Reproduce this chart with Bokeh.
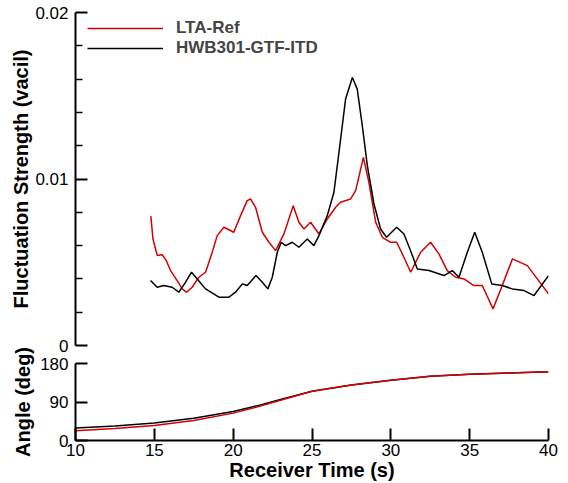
from bokeh.plotting import figure
from bokeh.layouts import column
from bokeh.models import FixedTicker, CustomJSTickFormatter, Legend, LegendItem, Range1d
from bokeh.embed import file_html
from bokeh.resources import INLINE

# ---------------- data ----------------
t_lta = [14.78, 14.91, 15.18, 15.50, 15.75, 16.03, 16.45, 16.77, 17.04, 17.40, 17.82, 18.25,
         18.67, 18.99, 19.41, 20.04, 20.47, 20.89, 21.10, 21.42, 21.85, 22.27, 22.69, 23.22,
         23.81, 24.17, 24.49, 24.91, 25.44, 25.97, 26.50, 26.81, 27.45, 27.77, 28.26, 28.61,
         29.04, 29.46, 29.99, 30.37, 30.83, 31.26, 31.89, 32.52, 33.05, 33.58, 34.11, 34.64,
         35.27, 35.80, 36.48, 37.07, 37.71, 38.66, 39.29, 40.00]
fs_lta = [0.00777, 0.00641, 0.00541, 0.00545, 0.00511, 0.0045, 0.0039, 0.0034, 0.0032, 0.0035,
          0.0041, 0.0044, 0.0056, 0.0066, 0.0071, 0.0068, 0.0078, 0.0087, 0.0088, 0.0083,
          0.0068, 0.0062, 0.0057, 0.0067, 0.0084, 0.0074, 0.0070, 0.0074, 0.0067, 0.0076,
          0.0083, 0.0086, 0.0088, 0.0093, 0.0113, 0.0098, 0.0074, 0.0065, 0.0062, 0.0062,
          0.0053, 0.0044, 0.0056, 0.0062, 0.0055, 0.0045, 0.0041, 0.0040, 0.0036, 0.0036,
          0.0022, 0.0036, 0.0052, 0.0048, 0.0040, 0.0031]

t_hwb = [14.76, 15.18, 15.60, 16.13, 16.55, 16.98, 17.36, 17.72, 18.25, 19.10, 19.73, 20.15,
         20.58, 20.89, 21.45, 21.85, 22.20, 22.48, 22.80, 23.05, 23.32, 23.75, 24.17, 24.70,
         25.12, 25.44, 25.97, 26.39, 26.71, 27.13, 27.56, 27.87, 28.19, 28.51, 28.93, 29.35,
         29.73, 30.37, 30.83, 31.21, 31.68, 32.42, 33.37, 33.90, 34.32, 34.85, 35.32, 35.80,
         36.40, 37.07, 37.71, 38.45, 39.08, 40.00]
fs_hwb = [0.0039, 0.0035, 0.0036, 0.0035, 0.0032, 0.0038, 0.0044, 0.0040, 0.0034, 0.0029,
          0.0029, 0.0032, 0.0037, 0.0036, 0.0042, 0.0038, 0.0034, 0.0041, 0.0056, 0.0062,
          0.0060, 0.0062, 0.0059, 0.0064, 0.0060, 0.0066, 0.0078, 0.0092, 0.0116, 0.0148,
          0.0161, 0.0154, 0.0132, 0.0108, 0.0085, 0.0070, 0.0065, 0.0071, 0.0067, 0.0058,
          0.0046, 0.0045, 0.0042, 0.0045, 0.0041, 0.0056, 0.0068, 0.0056, 0.0037, 0.0036,
          0.0034, 0.0033, 0.0030, 0.0042]

t_angle = [10, 12.5, 15, 17.5, 20, 21.5, 23, 25, 27.5, 30, 32.5, 35, 37.5, 40]
angle_lta = [23, 28, 35, 47, 64, 78, 94, 115, 130, 141, 150, 155, 158, 161]
angle_hwb = [29, 34, 41, 52, 68, 81, 96, 115, 130, 141, 150, 155, 158, 161]

series_names = ["LTA-Ref", "HWB301-GTF-ITD"]
fs_ticks = [0, 0.01, 0.02]
fs_minor_ticks = [0.002, 0.004, 0.006, 0.008, 0.012, 0.014, 0.016, 0.018]
angle_ticks = [0, 90, 180]
time_ticks = [10, 15, 20, 25, 30, 35, 40]

# ---------------- styling ----------------
FONT = "Liberation Sans"
RED = "#d40000"
BLACK = "#000000"


def style_axis(ax):
    ax.axis_line_width = 2
    ax.major_tick_line_width = 2
    ax.minor_tick_line_width = 1.5
    ax.major_tick_in = 12
    ax.major_tick_out = 0
    ax.minor_tick_in = 7
    ax.minor_tick_out = 0
    ax.major_label_text_font = FONT
    ax.major_label_text_font_size = "17px"
    ax.major_label_text_color = "black"
    ax.axis_label_text_font = FONT
    ax.axis_label_text_font_size = "20px"
    ax.axis_label_text_font_style = "bold"
    ax.axis_label_text_color = "black"


# ---------------- top plot ----------------
p1 = figure(width=568, height=354, x_range=Range1d(10, 40), y_range=Range1d(0, 0.02),
            output_backend="svg", toolbar_location=None, x_axis_location=None,
            min_border_left=75, min_border_right=20, min_border_top=12, min_border_bottom=9)
p1.outline_line_color = None
p1.grid.visible = False

r_lta = p1.line(t_lta, fs_lta, line_color=RED, line_width=1.5)
r_hwb = p1.line(t_hwb, fs_hwb, line_color=BLACK, line_width=1.5)

ya = p1.yaxis[0]
ya.ticker = FixedTicker(ticks=fs_ticks, minor_ticks=fs_minor_ticks)
ya.formatter = CustomJSTickFormatter(code="return tick == 0 ? '0' : tick.toFixed(2);")
ya.axis_label = "Fluctuation Strength (vacil)"
style_axis(ya)
ya.major_label_standoff = 7
ya.axis_label_standoff = 0

legend = Legend(items=[LegendItem(label=series_names[0], renderers=[r_lta]),
                       LegendItem(label=series_names[1], renderers=[r_hwb])],
                location=(12, 287))
legend.glyph_width = 76
legend.glyph_height = 20
legend.label_height = 20
legend.label_standoff = 13
legend.spacing = 0
legend.padding = 3
legend.margin = 0
legend.border_line_color = None
legend.background_fill_alpha = 0
legend.label_text_font = FONT
legend.label_text_font_size = "17px"
legend.label_text_font_style = "bold"
p1.add_layout(legend)

# ---------------- bottom plot (overlaps the top canvas by 16 px, transparent) ----------------
OVER = 16
p2 = figure(width=568, height=129 + OVER, x_range=Range1d(10, 40), y_range=Range1d(0, 180),
            output_backend="svg", toolbar_location=None,
            min_border_left=75, min_border_right=20, min_border_top=9 + OVER, min_border_bottom=43)
p2.margin = (-OVER, 0, 0, 0)
p2.outline_line_color = None
p2.grid.visible = False
p2.background_fill_alpha = 0
p2.border_fill_alpha = 0

p2.line(t_angle, angle_hwb, line_color=BLACK, line_width=1.5)
p2.line(t_angle, angle_lta, line_color=RED, line_width=1.5)

ya2 = p2.yaxis[0]
ya2.ticker = FixedTicker(ticks=angle_ticks, minor_ticks=[])
ya2.axis_label = "Angle (deg)"
style_axis(ya2)
ya2.major_label_standoff = 7
ya2.axis_label_standoff = 3

xa2 = p2.xaxis[0]
xa2.ticker = FixedTicker(ticks=time_ticks, minor_ticks=[])
xa2.axis_label = "Receiver Time (s)"
style_axis(xa2)
xa2.major_label_standoff = 3
xa2.axis_label_standoff = 0

layout = column(p1, p2, spacing=0)
open("out.html", "w").write(file_html(layout, INLINE))
